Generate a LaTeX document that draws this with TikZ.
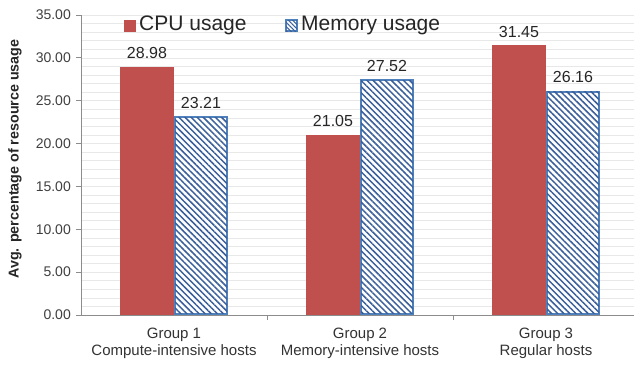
\documentclass[tikz,border=0pt]{standalone}
\usepackage{fontspec}
\setmainfont{Liberation Sans}
\usetikzlibrary{patterns.meta}
\definecolor{cpured}{HTML}{C0504D}
\definecolor{memblue}{HTML}{4F81BD}
\definecolor{hatchblue}{HTML}{3A5F9A}
\begin{document}
\begin{tikzpicture}[x=1pt,y=-1pt,
  cpubar/.style={fill=cpured,draw=none},
  membar/.style={draw=memblue,line width=2.2pt,fill=white,
    postaction={pattern={Lines[angle=-45,distance=4.3pt,line width=1.5pt]},pattern color=hatchblue}},
  vallabel/.style={font=\fontsize{16}{17}\selectfont,anchor=base,inner sep=0pt,text=black!85},
  ticklabel/.style={font=\fontsize{14}{15}\selectfont,anchor=east,inner sep=0pt,text=black!75},
  catlabel/.style={font=\fontsize{15}{16}\selectfont,inner sep=0pt,text=black!80},
  legtext/.style={font=\fontsize{21}{22}\selectfont,anchor=west,inner sep=0pt,text=black!85}]
\useasboundingbox (0,0) rectangle (634,364);
\fill[white] (0,0) rectangle (634,364);
% minor grid
\foreach \v in {1,...,35} {
  \draw[black!9,line width=0.6pt] (81,{315-\v*8.5714}) -- (634,{315-\v*8.5714});
}
% axes
\draw[black!45,line width=0.9pt] (81,15) -- (81,315);
\draw[black!45,line width=0.9pt] (81,315) -- (634,315);
\foreach \v/\t in {0/0.00,5/5.00,10/10.00,15/15.00,20/20.00,25/25.00,30/30.00,35/35.00} {
  \draw[black!45,line width=0.9pt] (76,{315-\v*8.5714}) -- (81,{315-\v*8.5714});
  \node[ticklabel] (t\v) at (71,{315-\v*8.5714}) {\t};
}
\foreach \x in {267,453} \draw[black!45,line width=0.9pt] (\x,315) -- (\x,320);
% y-axis title
\node[rotate=90,font=\bfseries\fontsize{14.3}{15}\selectfont,text=black!85,inner sep=0pt] (ytitle) at (15,159) {Avg. percentage of resource usage};
% bars
\foreach \c/\cx/\cv/\mv/\cl/\ml in {1/174/28.98/23.21/28.98/23.21, 2/360/21.05/27.52/21.05/27.52, 3/546/31.45/26.16/31.45/26.16} {
  \fill[cpured] ({\cx-54},315) rectangle (\cx,{315-\cv*8.5714});
  \node[vallabel] (cl\c) at ({\cx-27},{315-\cv*8.5714-8}) {\cl};
  \draw[membar] ({\cx+1.1},313.9) rectangle ({\cx+53},{315-\mv*8.5714+1.1});
  \node[vallabel] (ml\c) at ({\cx+27},{315-\mv*8.5714-8}) {\ml};
}
% category labels
\node[catlabel] (g1) at (174,335) {Group 1};
\node[catlabel] (g1b) at (174,352) {Compute-intensive hosts};
\node[catlabel] (g2) at (360,335) {Group 2};
\node[catlabel] (g2b) at (360,352) {Memory-intensive hosts};
\node[catlabel] (g3) at (546,335) {Group 3};
\node[catlabel] (g3b) at (546,352) {Regular hosts};
% legend
\fill[cpured] (124,19.5) rectangle (136,31.5);
\node[legtext] (lcpu) at (139,25.5) {CPU usage};
\draw[draw=memblue,line width=1.2pt,fill=white,postaction={pattern={Lines[angle=-45,distance=3pt,line width=1pt]},pattern color=hatchblue}] (286,20) rectangle (297,31);
\node[legtext] (lmem) at (301,25.5) {Memory usage};
\end{tikzpicture}
\end{document}
